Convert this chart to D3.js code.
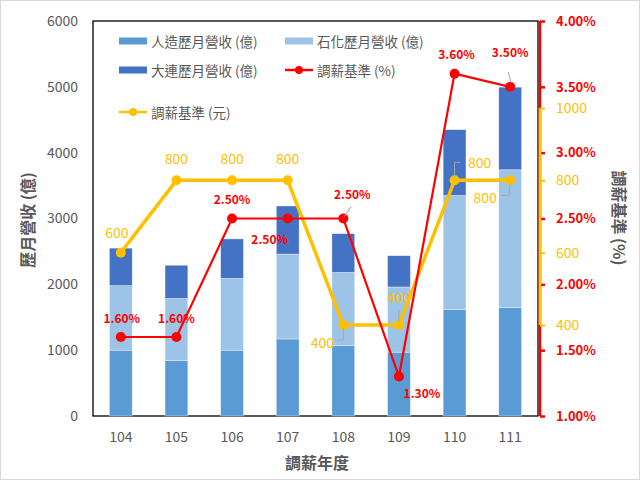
<!DOCTYPE html>
<html>
<head>
<meta charset="utf-8">
<script src="https://cdn.jsdelivr.net/npm/d3@7"></script>
<style>
	body { margin: 0; background: #fff; }
	text { font-family: 'Noto Sans CJK TC', 'Noto Sans', sans-serif; }
</style>
</head>
<body>
<div id="chart"></div>
<script>
'use strict';

// data
var years = ['104', '105', '106', '107', '108', '109', '110', '111'];
var manmade = [1000, 845, 1000, 1170, 1070, 970, 1620, 1645];     // 人造
var petro = [980, 940, 1090, 1290, 1110, 990, 1730, 2095];         // 石化
var dalian = [570, 505, 600, 730, 590, 475, 1000, 1255];           // 大連
var raisePct = [1.6, 1.6, 2.5, 2.5, 2.5, 1.3, 3.6, 3.5];            // 調薪基準 (%)
var raiseAmt = [600, 800, 800, 800, 400, 400, 800, 800];           // 調薪基準 (元)

var leftTicks = [0, 1000, 2000, 3000, 4000, 5000, 6000];
var pctTicks = [1.0, 1.5, 2.0, 2.5, 3.0, 3.5, 4.0];
var amtTicks = [400, 600, 800, 1000];

var seriesNames = ['人造歷月營收 (億)', '石化歷月營收 (億)', '大連歷月營收 (億)'];
var barColors = ['#5b9bd5', '#9dc3e6', '#4472c4'];
var red = '#ff0000', gold = '#ffc000', grey = '#595959';

// label placement (dx, dy from the point, optional leader line)
var pctLabelPos = [[1, -20], [0, -20], [0, -20], [-18, 20], [9, -25, [[1, -2], [8, -12]]],
	[23, 16], [2, -20], [0, -35, [[1, -4], [-2, -15]]]];
var amtLabelPos = [[-4, -21], [0, -22], [0, -22], [0, -22], [-21, 17, [[0, 3], [0, 15], [-6, 15]]],
	[0, -28, [[0, -3], [0, -15]]], [25, -18, [[0, -3], [0, -18], [6, -18]]],
	[-25, 17, [[0, 3], [-1, 15], [-9, 15]]]];

var W = 640, H = 480;
var plotL = 93, plotR = 538, plotT = 21, plotB = 416;

var svg = d3.select('#chart').append('svg')
	.attr('width', W).attr('height', H);

svg.append('rect')
	.attr('x', 0.5).attr('y', 0.5).attr('width', W - 1).attr('height', H - 1)
	.attr('fill', '#fff').attr('stroke', '#d9d9d9');

var x = d3.scaleBand().domain(years).range([plotL, plotR])
	.paddingInner(0.59).paddingOuter(0.295);
var y = d3.scaleLinear().domain([0, 6000]).range([plotB, plotT]);
var yPct = d3.scaleLinear().domain([1, 4]).range([plotB, plotT]);
var yAmt = d3.scaleLinear().domain([400, 1000]).range([325, 108]);
var cx = function (i) { return x(years[i]) + x.bandwidth() / 2; };

// plot frame
svg.append('rect')
	.attr('x', plotL).attr('y', plotT).attr('width', plotR - plotL).attr('height', plotB - plotT)
	.attr('fill', 'none').attr('stroke', '#000').attr('stroke-width', 1.3);

// stacked bars
var table = years.map(function (yr, i) {
	return { year: yr, a: manmade[i], b: petro[i], c: dalian[i] };
});
var stacked = d3.stack().keys(['a', 'b', 'c'])(table);

svg.append('g').selectAll('g')
	.data(stacked)
	.enter().append('g')
	.attr('fill', function (d, i) { return barColors[i]; })
	.selectAll('rect')
	.data(function (d) { return d; })
	.enter().append('rect')
	.attr('x', function (d) { return x(d.data.year); })
	.attr('y', function (d) { return y(d[1]); })
	.attr('width', x.bandwidth())
	.attr('height', function (d) { return y(d[0]) - y(d[1]); })
	.attr('stroke', '#fff').attr('stroke-width', 0.6).attr('stroke-opacity', 0.6);

// left axis
var yAxis = d3.axisLeft(y).tickValues(leftTicks).tickSize(0).tickPadding(15).tickFormat(d3.format('d'));
var gl = svg.append('g').attr('transform', 'translate(' + plotL + ',0)').call(yAxis);
gl.select('.domain').remove();
gl.selectAll('text').attr('fill', grey).style('font-size', '14px')
	.style('font-family', "'Noto Sans CJK TC', sans-serif");

// bottom axis
var xAxis = d3.axisBottom(x).tickSize(0).tickPadding(16);
var gb = svg.append('g').attr('transform', 'translate(0,' + plotB + ')').call(xAxis);
gb.select('.domain').remove();
gb.selectAll('text').attr('fill', grey).style('font-size', '14px')
	.style('font-family', "'Noto Sans CJK TC', sans-serif");

// right axes (percent in red, amount in gold on top)
var ax = 540;
var gp = svg.append('g').attr('transform', 'translate(' + ax + ',0)')
	.call(d3.axisRight(yPct).tickValues(pctTicks).tickSize(5).tickPadding(11)
		.tickFormat(function (d) { return d3.format('.2f')(d) + '%'; }));
gp.select('.domain').attr('stroke', red).attr('stroke-width', 2.5)
	.attr('d', 'M0,' + plotT + 'V' + plotB);
gp.selectAll('line').attr('stroke', red).attr('stroke-width', 2.5);
gp.selectAll('text').attr('fill', red).style('font-size', '13px').style('font-weight', 'bold')
	.style('font-family', "'Noto Sans CJK TC', sans-serif");

var ga = svg.append('g').attr('transform', 'translate(' + ax + ',0)')
	.call(d3.axisRight(yAmt).tickValues(amtTicks).tickSize(5).tickPadding(11).tickFormat(d3.format('d')));
ga.select('.domain').attr('stroke', gold).attr('stroke-width', 2.5)
	.attr('d', 'M0,' + yAmt(1000) + 'V' + yAmt(400));
ga.selectAll('line').attr('stroke', gold).attr('stroke-width', 2);
ga.selectAll('text').attr('fill', gold).style('font-size', '14px')
	.style('font-family', "'Noto Sans CJK TC', sans-serif");

// lines
var idx = d3.range(years.length);
var pctLine = d3.line().x(function (i) { return cx(i); }).y(function (i) { return yPct(raisePct[i]); });
var amtLine = d3.line().x(function (i) { return cx(i); }).y(function (i) { return yAmt(raiseAmt[i]); });

svg.append('path').datum(idx).attr('d', amtLine)
	.attr('fill', 'none').attr('stroke', gold).attr('stroke-width', 3.5).attr('stroke-linejoin', 'round');
svg.append('g').selectAll('circle').data(idx).enter().append('circle')
	.attr('cx', cx).attr('cy', function (i) { return yAmt(raiseAmt[i]); })
	.attr('r', 5).attr('fill', gold);

svg.append('path').datum(idx).attr('d', pctLine)
	.attr('fill', 'none').attr('stroke', red).attr('stroke-width', 2.2);
svg.append('g').selectAll('circle').data(idx).enter().append('circle')
	.attr('cx', cx).attr('cy', function (i) { return yPct(raisePct[i]); })
	.attr('r', 5).attr('fill', red);

// data labels
function drawLabels(values, scale, pos, color, fmt, weight) {
	var g = svg.append('g');
	values.forEach(function (v, i) {
		var px = cx(i), py = scale(v), p = pos[i];
		if (p[2]) {
			g.append('path')
				.attr('d', d3.line()(p[2].map(function (q) { return [px + q[0], py + q[1]]; })))
				.attr('fill', 'none').attr('stroke', '#a6a6a6').attr('stroke-width', 1);
		}
		g.append('text')
			.attr('x', px + p[0]).attr('y', py + p[1])
			.attr('text-anchor', 'middle').attr('dominant-baseline', 'central')
			.attr('fill', color).style('font-size', weight ? '12px' : '14px')
			.style('font-weight', weight || 'normal')
			.text(fmt(v));
	});
}
drawLabels(raisePct, yPct, pctLabelPos, red, function (v) { return d3.format('.2f')(v) + '%'; }, 'bold');
drawLabels(raiseAmt, yAmt, amtLabelPos, gold, function (v) { return String(v); });

// legend
var legend = [
	{ name: seriesNames[0], type: 'bar', color: barColors[0], x: 119, y: 41 },
	{ name: seriesNames[1], type: 'bar', color: barColors[1], x: 285, y: 41 },
	{ name: seriesNames[2], type: 'bar', color: barColors[2], x: 119, y: 70 },
	{ name: '調薪基準 (%)', type: 'line', color: red, x: 285, y: 70 },
	{ name: '調薪基準 (元)', type: 'line', color: gold, x: 119, y: 112 }
];
var lg = svg.append('g').selectAll('g').data(legend).enter().append('g')
	.attr('transform', function (d) { return 'translate(' + d.x + ',' + d.y + ')'; });
lg.filter(function (d) { return d.type === 'bar'; }).append('rect')
	.attr('x', 0).attr('y', -3.5).attr('width', 28).attr('height', 7)
	.attr('fill', function (d) { return d.color; });
lg.filter(function (d) { return d.type === 'line'; }).append('line')
	.attr('x1', 0).attr('x2', 28).attr('y1', 0).attr('y2', 0)
	.attr('stroke', function (d) { return d.color; }).attr('stroke-width', 2.5);
lg.filter(function (d) { return d.type === 'line'; }).append('circle')
	.attr('cx', 14).attr('cy', 0).attr('r', 4)
	.attr('fill', function (d) { return d.color; });
lg.append('text').attr('x', 32).attr('y', 0).attr('dominant-baseline', 'central')
	.attr('fill', grey).style('font-size', '13.5px')
	.text(function (d) { return d.name; });

// axis titles
svg.append('text').attr('transform', 'translate(27,220) rotate(-90)')
	.attr('text-anchor', 'middle').attr('dominant-baseline', 'central')
	.attr('fill', grey).style('font-size', '16px').style('font-weight', 'bold')
	.text('歷月營收 (億)');
svg.append('text').attr('transform', 'translate(620,218) rotate(90)')
	.attr('text-anchor', 'middle').attr('dominant-baseline', 'central')
	.attr('fill', grey).style('font-size', '16px').style('font-weight', 'bold')
	.text('調薪基準 (%)');
svg.append('text').attr('x', 317).attr('y', 462)
	.attr('text-anchor', 'middle').attr('dominant-baseline', 'central')
	.attr('fill', grey).style('font-size', '16px').style('font-weight', 'bold')
	.text('調薪年度');
</script>
</body>
</html>
